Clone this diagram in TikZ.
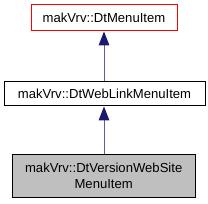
\documentclass[tikz,border=0pt]{standalone}
\usepackage{fontspec}
\setmainfont{Liberation Sans}
\usetikzlibrary{arrows.meta}
\definecolor{midnightblue}{RGB}{25,25,112}
\definecolor{boxgray}{RGB}{191,191,191}

\begin{document}
\begin{tikzpicture}[x=1pt,y=1pt,
    classbox/.style={draw=black,fill=white,line width=1pt,inner sep=0pt,
      font=\fontsize{13.1}{15.5}\selectfont,align=center},
    inherit/.style={draw=midnightblue!70,line width=1pt,
      -{Triangle[length=14pt,width=10.7pt,color=midnightblue,fill=midnightblue]}}]
  \useasboundingbox (0,0) rectangle (208,203);
  % the three classes
  \node[classbox,draw=red,minimum width=146pt,minimum height=26pt]
    (menuitem) at (104,185) {makVrv::DtMenuItem};
  \node[classbox,minimum width=201pt,minimum height=24pt]
    (weblink) at (104.5,109) {makVrv::DtWebLinkMenuItem};
  \node[classbox,fill=boxgray,minimum width=183pt,minimum height=42pt]
    (versionsite) at (103.7,27) {makVrv::DtVersionWebSite\\MenuItem};
  % inheritance
  \draw[inherit] (weblink.north -| menuitem.south) -- (menuitem.south);
  \draw[inherit] (versionsite.north -| menuitem.south) -- (weblink.south -| menuitem.south);
\end{tikzpicture}
\end{document}
